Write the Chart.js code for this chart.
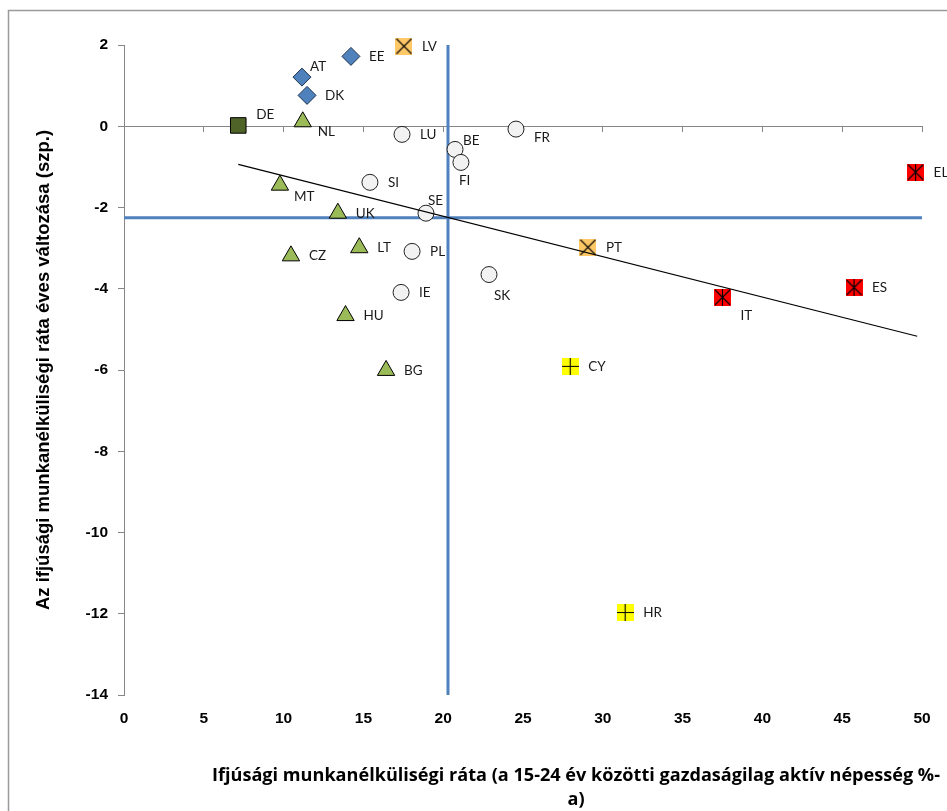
<!DOCTYPE html>
<html>
<head>
<meta charset="utf-8">
<title>Ifjúsági munkanélküliség</title>
<script src="https://cdn.jsdelivr.net/npm/chart.js"></script>
<style>
  body { margin: 0; background: #fff; }
</style>
</head>
<body>
<canvas id="chart" width="947" height="811"></canvas>
<script>
// data
const countries  = ['AT', 'DK', 'EE', 'DE', 'NL', 'MT', 'UK', 'LT', 'CZ', 'HU', 'BG',
                    'LU', 'FR', 'BE', 'FI', 'SI', 'SE', 'PL', 'SK', 'IE',
                    'LV', 'PT', 'IT', 'ES', 'EL', 'CY', 'HR'];
const youthRate  = [11.15, 11.47, 14.22, 7.16, 11.2, 9.77, 13.4, 14.74, 10.46, 13.88, 16.42,
                    17.42, 24.56, 20.74, 21.11, 15.41, 18.92, 18.05, 22.87, 17.36,
                    17.54, 29.07, 37.5, 45.74, 49.6, 27.96, 31.4];
const rateChange = [1.21, 0.76, 1.72, 0.02, 0.11, -1.45, -2.14, -2.99, -3.19, -4.66, -6.01,
                    -0.2, -0.07, -0.57, -0.89, -1.38, -2.14, -3.08, -3.65, -4.09,
                    1.97, -2.98, -4.21, -3.97, -1.13, -5.91, -11.97];
const markerGroup = ['diamond', 'diamond', 'diamond', 'square', 'triangle', 'triangle', 'triangle',
                     'triangle', 'triangle', 'triangle', 'triangle',
                     'circle', 'circle', 'circle', 'circle', 'circle', 'circle', 'circle', 'circle', 'circle',
                     'orangeX', 'orangeX', 'redStar', 'redStar', 'redStar', 'yellowPlus', 'yellowPlus'];
const avgRate = 20.3;
const avgChange = -2.25;
const trendX = [7.16, 49.7];
const trendY = [-0.94, -5.17];
const xRange = [0, 50, 5];
const yRange = [-14, 2, 2];

const xTitle = ['Ifjúsági munkanélküliségi ráta (a 15-24 év közötti gazdaságilag aktív népesség %-', 'a)'];
const yTitle = 'Az ifjúsági munkanélküliségi ráta éves változása (szp.)';

// filled square markers with a black symbol on top
function symbolMarker(fill, kind) {
  const s = 17;
  const c = document.createElement('canvas');
  c.width = s; c.height = s;
  const g = c.getContext('2d');
  g.fillStyle = fill;
  g.fillRect(0, 0, s, s);
  g.strokeStyle = '#000';
  g.lineWidth = 1.1;
  g.beginPath();
  if (kind === 'x' || kind === 'star') {
    g.moveTo(1, 1); g.lineTo(s - 1, s - 1);
    g.moveTo(s - 1, 1); g.lineTo(1, s - 1);
  }
  if (kind === 'star' || kind === 'plus') {
    g.moveTo(s / 2, 0); g.lineTo(s / 2, s);
  }
  if (kind === 'plus') {
    g.moveTo(0, s / 2); g.lineTo(s, s / 2);
  }
  g.stroke();
  return c;
}

const groupStyle = {
  diamond:    { pointStyle: 'rectRot',  radius: 9,   bg: '#4F81BD', border: '#1F3550' },
  square:     { pointStyle: 'rect',     radius: 11,  bg: '#4F6228', border: '#000' },
  triangle:   { pointStyle: 'triangle', radius: 10,  bg: '#9BBB59', border: '#000' },
  circle:     { pointStyle: 'circle',   radius: 8,   bg: '#F2F2F2', border: '#222' },
  orangeX:    { pointStyle: symbolMarker('#FFC866', 'x'),    radius: 9 },
  redStar:    { pointStyle: symbolMarker('#FF0000', 'star'), radius: 9 },
  yellowPlus: { pointStyle: symbolMarker('#FFFF00', 'plus'), radius: 9 }
};

const pointSets = Object.keys(groupStyle).map(function (grp) {
  const st = groupStyle[grp];
  const idx = countries.map((c, i) => i).filter(i => markerGroup[i] === grp);
  return {
    label: grp,
    labels: idx.map(i => countries[i]),
    data: idx.map(i => ({ x: youthRate[i], y: rateChange[i] })),
    pointStyle: st.pointStyle,
    pointRadius: st.radius,
    backgroundColor: st.bg || '#000',
    borderColor: st.border || '#000',
    borderWidth: 1,
    clip: false,
    xAxisID: 'x', yAxisID: 'y'
  };
});

const trendSet = {
  label: 'trend',
  data: trendX.map((x, i) => ({ x: x, y: trendY[i] })),
  showLine: true, pointRadius: 0, borderColor: '#000', borderWidth: 1.2,
  xAxisID: 'x', yAxisID: 'y'
};
const avgLines = [
  { label: 'avgY', data: [{ x: xRange[0], y: avgChange }, { x: xRange[1], y: avgChange }] },
  { label: 'avgX', data: [{ x: avgRate, y: yRange[0] }, { x: avgRate, y: yRange[1] }] }
].map(d => Object.assign(d, {
  showLine: true, pointRadius: 0, borderColor: '#4F81BD', borderWidth: 3,
  xAxisID: 'x', yAxisID: 'y'
}));

const framePlugin = {
  id: 'frame',
  beforeDraw(chart) {
    const ctx = chart.ctx;
    ctx.save();
    ctx.fillStyle = '#fff';
    ctx.fillRect(0, 0, chart.width, chart.height);
    ctx.strokeStyle = '#9A9A9A';
    ctx.lineWidth = 1.5;
    ctx.strokeRect(8.5, 10.5, chart.width + 20, chart.height + 20);
    ctx.restore();
  }
};

const pointLabelPlugin = {
  id: 'pointLabels',
  afterDatasetsDraw(chart, args, opts) {
    const ctx = chart.ctx;
    ctx.save();
    ctx.font = opts.font;
    ctx.fillStyle = opts.color;
    ctx.textAlign = 'left';
    ctx.textBaseline = 'middle';
    chart.data.datasets.forEach(function (ds, i) {
      if (!ds.labels) return;
      chart.getDatasetMeta(i).data.forEach(function (pt, j) {
        const name = ds.labels[j];
        const off = opts.offsets[name] || opts.defaultOffset;
        ctx.fillText(name, pt.x + off[0], pt.y + off[1]);
      });
    });
    ctx.restore();
  }
};

const xTitlePlugin = {
  id: 'xTitle',
  afterDraw(chart, args, opts) {
    const ctx = chart.ctx;
    ctx.save();
    ctx.font = opts.font;
    ctx.fillStyle = '#000';
    ctx.textAlign = 'center';
    ctx.textBaseline = 'middle';
    let k = 1;
    opts.lines.forEach(function (line, i) {
      if (i === 0) k = opts.maxWidth / ctx.measureText(line).width;
      ctx.save();
      ctx.translate(opts.centerX, opts.firstY + i * opts.lineGap);
      ctx.scale(k, 1);
      ctx.fillText(line, 0, 0);
      ctx.restore();
    });
    ctx.restore();
  }
};

const tickFont = { family: 'Liberation Sans', weight: 'bold', size: 15.5 };

new Chart(document.getElementById('chart'), {
  type: 'scatter',
  data: { datasets: [trendSet].concat(pointSets, avgLines) },
  options: {
    responsive: false,
    animation: false,
    events: [],
    layout: { padding: { top: 45, right: 25, left: 0, bottom: 0 } },
    scales: {
      x: {
        type: 'linear', position: 'bottom',
        min: xRange[0], max: xRange[1],
        ticks: { stepSize: xRange[2], color: '#000', padding: 14, font: tickFont },
        grid: { display: false, drawTicks: false },
        border: { display: false },
        afterFit(scale) { scale.height = 116; }
      },
      x2: {
        type: 'linear', axis: 'x', position: { y: 0 },
        min: xRange[0], max: xRange[1],
        ticks: { stepSize: xRange[2], display: false },
        grid: { drawOnChartArea: false, tickLength: 5, color: '#868686' },
        border: { color: '#868686', width: 1 }
      },
      y: {
        type: 'linear', position: 'left',
        min: yRange[0], max: yRange[1],
        ticks: { stepSize: yRange[2], color: '#000', padding: 10, font: tickFont },
        grid: { drawOnChartArea: false, tickLength: 6, color: '#868686' },
        border: { color: '#868686', width: 1 },
        title: {
          display: true, text: yTitle, color: '#000',
          font: { family: 'Liberation Sans', weight: 'bold', size: 18.5 },
          padding: { top: 33, bottom: 0 }
        },
        afterFit(scale) { scale.width = 124; }
      }
    },
    plugins: {
      legend: { display: false },
      tooltip: { enabled: false },
      pointLabels: {
        font: '13.5px Lato',
        color: '#1a1a1a',
        defaultOffset: [18, 0],
        offsets: {
          AT: [8, -10], DE: [18, -11], NL: [15, 10], FR: [18, 9], BE: [8, -9],
          FI: [-2, 18], MT: [14, 11], SE: [2, -13], SK: [5, 21], IT: [18, 18]
        }
      },
      xTitle: {
        lines: xTitle,
        font: 'bold 18px "Open Sans"',
        centerX: 576, firstY: 776, lineGap: 24, maxWidth: 728
      }
    }
  },
  plugins: [framePlugin, pointLabelPlugin, xTitlePlugin]
});
</script>
</body>
</html>
